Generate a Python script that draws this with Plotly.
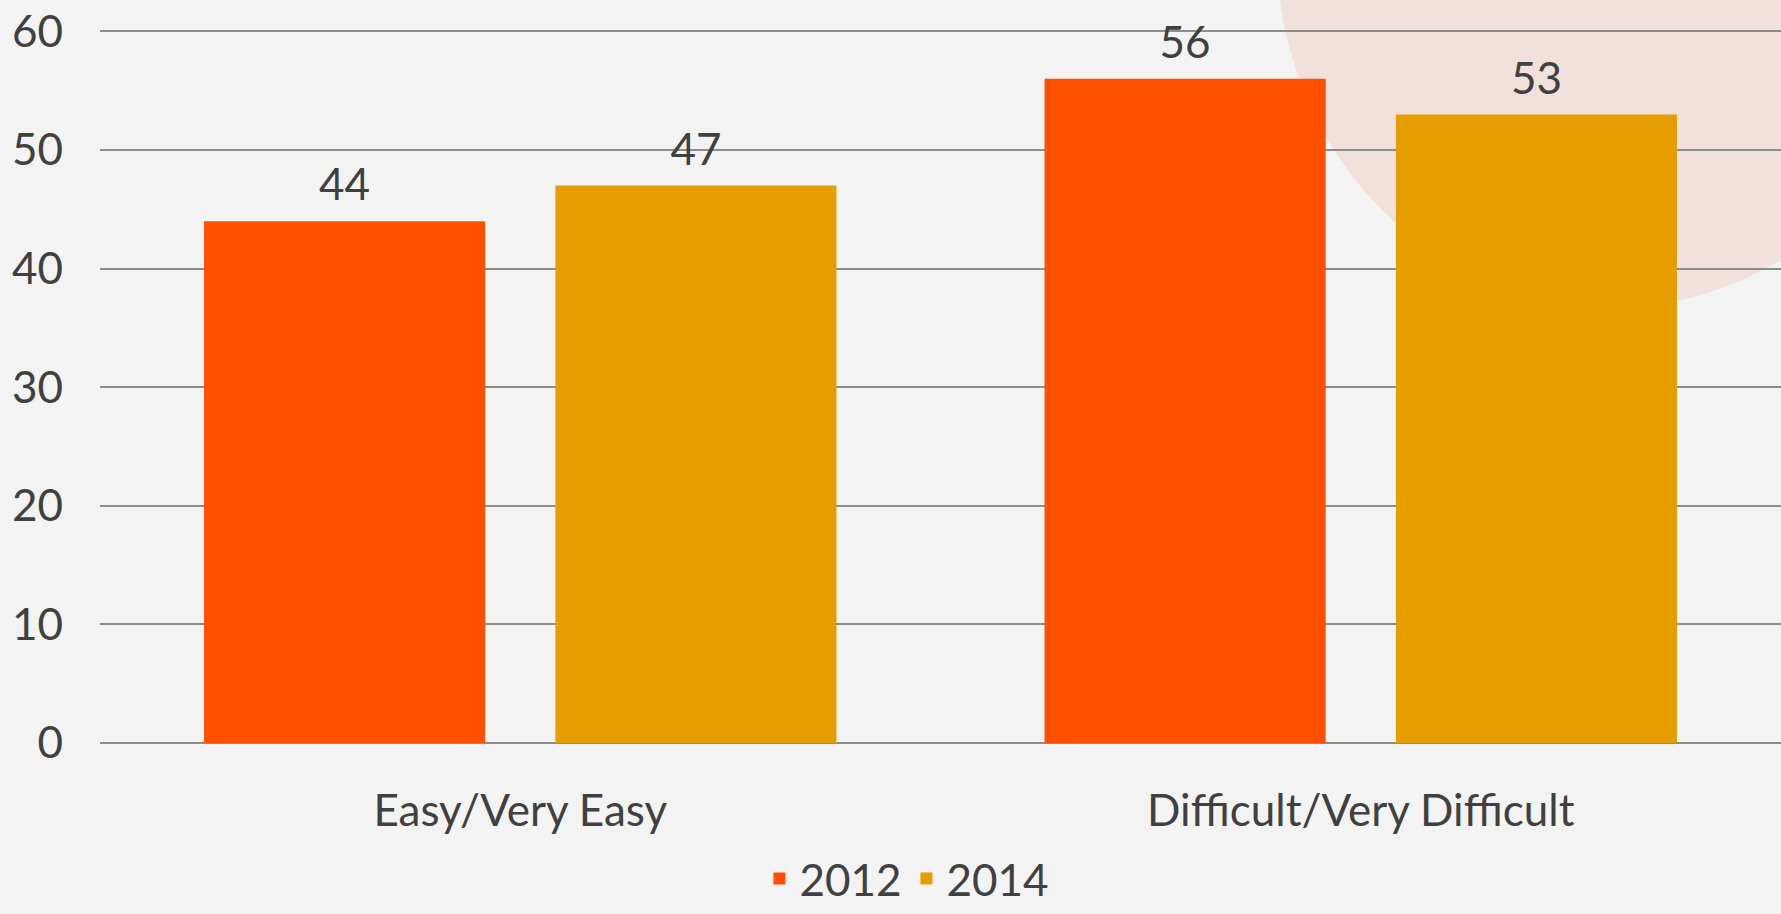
import plotly.graph_objects as go

categories = ["Easy/Very Easy", "Difficult/Very Difficult"]
series_names = ["2012", "2014"]
values_2012 = [44, 56]
values_2014 = [47, 53]
colors = ["#FF4F00", "#E59E00"]
y_ticks = [0, 10, 20, 30, 40, 50, 60]

FONT = "Lato, 'Open Sans', sans-serif"
TXT = "#404040"
FS = 44

fig = go.Figure()
series = list(zip(series_names, [values_2012, values_2014], colors))
for name, vals, col in series:
    fig.add_trace(go.Bar(
        name=name, x=categories, y=vals, offsetgroup=name,
        marker=dict(color=col, line=dict(width=0)),
        hoverinfo="x+y+name",
    ))
for name, vals, col in series:
    fig.add_trace(go.Scatter(
        name=name, x=categories, y=vals, offsetgroup=name,
        mode="markers+text", text=[str(v) for v in vals], textposition="top center",
        marker=dict(size=14, color="rgba(0,0,0,0)"),
        textfont=dict(family=FONT, size=FS, color=TXT),
        showlegend=False, cliponaxis=False, hoverinfo="skip",
    ))

fig.add_shape(type="circle", xref="paper", yref="paper",
              x0=0.70, x1=1.10, y0=0.61, y1=1.61, layer="below",
              fillcolor="rgba(232,110,85,0.14)", line=dict(width=0))

fig.update_layout(
    width=1781, height=914,
    margin=dict(l=100, r=0, t=29, b=171, autoexpand=False),
    paper_bgcolor="#f3f3f3", plot_bgcolor="rgba(0,0,0,0)",
    barmode="group", bargap=0.164, bargroupgap=0.2,
    scattermode="group", scattergap=0.164,
    font=dict(family=FONT, size=FS, color=TXT),
    showlegend=True,
    legend=dict(orientation="h", x=0.48, xanchor="center", y=-0.24, yanchor="bottom",
                font=dict(family=FONT, size=FS, color=TXT), bgcolor="rgba(0,0,0,0)",
                itemwidth=30, traceorder="normal"),
    xaxis=dict(showgrid=False, showline=False, ticks="", tickfont=dict(size=FS, color=TXT),
               ticklabelstandoff=38, automargin=False),
    yaxis=dict(range=[0, 60.2], tickvals=y_ticks, showgrid=True, gridcolor="#8c8c8c", gridwidth=2,
               zeroline=True, zerolinecolor="#8c8c8c", zerolinewidth=2, showline=False,
               ticks="", tickfont=dict(size=FS, color=TXT), ticklabelstandoff=36,
               automargin=False),
)

fig.write_html("out.html", config={"displayModeBar": False},
               post_script="document.body.style.margin='0';document.body.style.background='#f3f3f3';")
